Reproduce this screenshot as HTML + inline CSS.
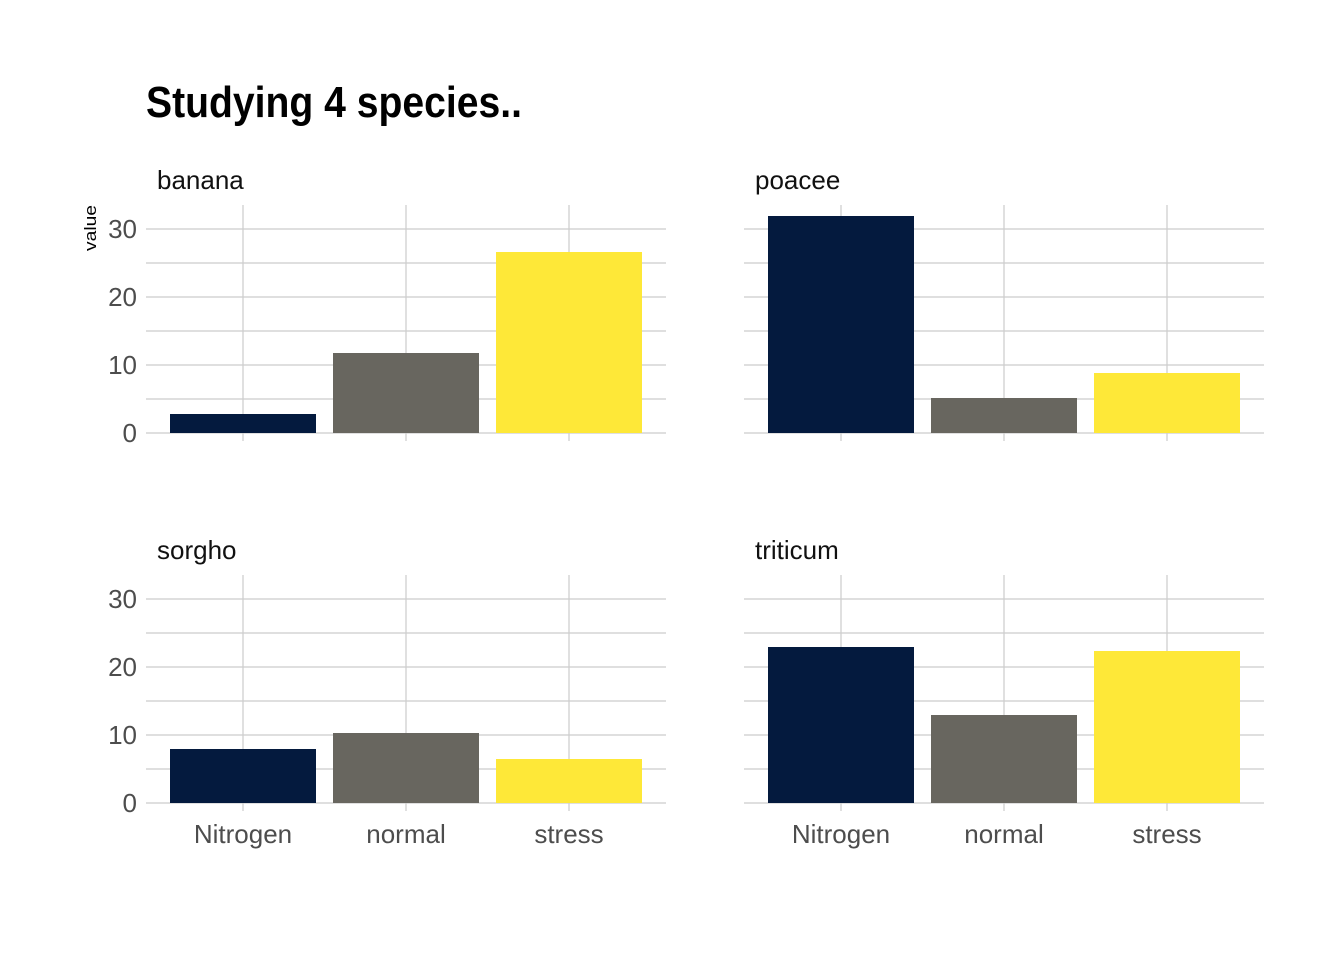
<!DOCTYPE html>
<html><head><meta charset="utf-8"><style>body{margin:0;background:#fff}</style></head><body>
<svg width="1344" height="960" xmlns="http://www.w3.org/2000/svg" font-family="Liberation Sans, sans-serif">
<rect width="1344" height="960" fill="#fff"/>
<text x="146" y="117" font-size="44" font-weight="bold" textLength="376" lengthAdjust="spacingAndGlyphs">Studying 4 species..</text>
<text transform="translate(96,228) rotate(-90)" font-size="17" text-anchor="middle" textLength="46" lengthAdjust="spacingAndGlyphs">value</text>
<g stroke="#cccccc" stroke-width="1.2" fill="none">
<!-- top-left -->
<path d="M146 433H666M146 399H666M146 365H666M146 331H666M146 297H666M146 263H666M146 229H666M243 205V441M406 205V441M569 205V441"/>
<path d="M744 433H1264M744 399H1264M744 365H1264M744 331H1264M744 297H1264M744 263H1264M744 229H1264M841 205V441M1004 205V441M1167 205V441"/>
<path d="M146 803H666M146 769H666M146 735H666M146 701H666M146 667H666M146 633H666M146 599H666M243 575V811M406 575V811M569 575V811"/>
<path d="M744 803H1264M744 769H1264M744 735H1264M744 701H1264M744 667H1264M744 633H1264M744 599H1264M841 575V811M1004 575V811M1167 575V811"/>
</g>
<g>
<rect x="170" y="414" width="146" height="19" fill="#041A3E"/>
<rect x="333" y="353" width="146" height="80" fill="#68665F"/>
<rect x="496" y="252" width="146" height="181" fill="#FEE838"/>
<rect x="768" y="216" width="146" height="217" fill="#041A3E"/>
<rect x="931" y="398" width="146" height="35" fill="#68665F"/>
<rect x="1094" y="373" width="146" height="60" fill="#FEE838"/>
<rect x="170" y="749" width="146" height="54" fill="#041A3E"/>
<rect x="333" y="733" width="146" height="70" fill="#68665F"/>
<rect x="496" y="759" width="146" height="44" fill="#FEE838"/>
<rect x="768" y="647" width="146" height="156" fill="#041A3E"/>
<rect x="931" y="715" width="146" height="88" fill="#68665F"/>
<rect x="1094" y="651" width="146" height="152" fill="#FEE838"/>
</g>
<g font-size="26" fill="#111">
<text x="157" y="189">banana</text>
<text x="755" y="189">poacee</text>
<text x="157" y="559">sorgho</text>
<text x="755" y="559">triticum</text>
</g>
<g font-size="26" fill="#4d4d4d" text-anchor="end">
<text x="137" y="442">0</text><text x="137" y="374">10</text><text x="137" y="306">20</text><text x="137" y="238">30</text>
<text x="137" y="812">0</text><text x="137" y="744">10</text><text x="137" y="676">20</text><text x="137" y="608">30</text>
</g>
<g font-size="26" fill="#4d4d4d" text-anchor="middle">
<text x="243" y="843">Nitrogen</text><text x="406" y="843">normal</text><text x="569" y="843">stress</text>
<text x="841" y="843">Nitrogen</text><text x="1004" y="843">normal</text><text x="1167" y="843">stress</text>
</g>
</svg>
</body></html>
